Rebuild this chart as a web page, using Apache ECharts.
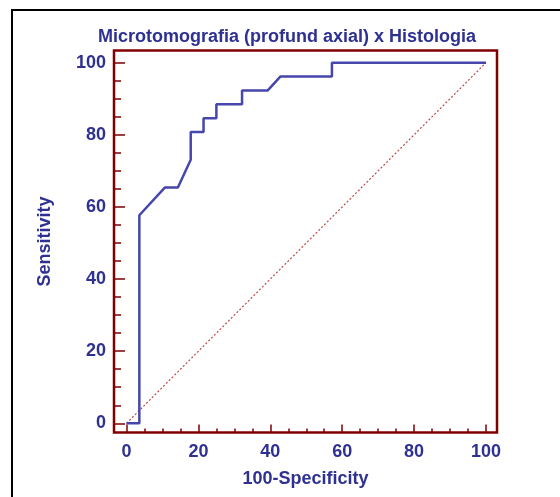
<!DOCTYPE html>
<html>
<head>
<meta charset="utf-8">
<script src="https://cdn.jsdelivr.net/npm/echarts@6/dist/echarts.min.js"></script>
<style>
  html, body { margin: 0; padding: 0; background: #fff; }
  #main { width: 560px; height: 497px; }
</style>
</head>
<body>
<div id="main"></div>
<script>
var chartDom = document.getElementById('main');
var myChart = echarts.init(chartDom);

// ROC curve points: [100-Specificity, Sensitivity]
var rocX = [0, 3.57, 3.57, 10.71, 14.29, 17.86, 17.86, 21.43, 21.43, 25, 25, 32.14, 32.14, 39.29, 42.86, 57.14, 57.14, 100];
var rocY = [0, 0, 57.7, 65.4, 65.4, 73.1, 80.8, 80.8, 84.6, 84.6, 88.5, 88.5, 92.3, 92.3, 96.2, 96.2, 100, 100];
var diagX = [0, 100];
var diagY = [0, 100];

var majorTicks = [0, 20, 40, 60, 80, 100];
var minorTicks = [5, 10, 15, 25, 30, 35, 45, 50, 55, 65, 70, 75, 85, 90, 95];

var titleText = 'Microtomografia (profund axial) x Histologia';
var xName = '100-Specificity';
var yName = 'Sensitivity';

var textColor = '#2e3192';
var axisColor = '#800000';
var font = 'Liberation Sans, Arial, sans-serif';
var fs = 18;

function pairs(xs, ys) {
    return xs.map((x, i) => [x, ys[i]]);
}

// axes stretch a bit past 0..100 so the frame sits outside the data
var xMin = -3.48, xMax = 103.06;
var yMin = -2.55, yMax = 103.38;

var labelStyle = { color: textColor, fontSize: fs, fontWeight: 'bold', fontFamily: font };

var option = {
    backgroundColor: '#fff',
    animation: false,
    title: {
        text: titleText,
        left: 93,
        top: 23,
        textStyle: labelStyle
    },
    grid: { left: 114, top: 50.5, width: 383, height: 382 },
    xAxis: [
        {
            type: 'value', min: xMin, max: xMax, position: 'bottom',
            name: xName, nameLocation: 'middle', nameGap: 38,
            nameTextStyle: labelStyle,
            axisLine: { show: false, onZero: false },
            axisTick: { show: true, inside: true, length: 8, customValues: majorTicks,
                        lineStyle: { color: axisColor, width: 1.5 } },
            axisLabel: Object.assign({ margin: 11, customValues: majorTicks }, labelStyle),
            splitLine: { show: false }
        },
        {
            type: 'value', min: xMin, max: xMax, position: 'bottom',
            axisLine: { show: false, onZero: false },
            axisTick: { show: true, inside: true, length: 4, customValues: minorTicks,
                        lineStyle: { color: axisColor, width: 1.5 } },
            axisLabel: { show: false },
            splitLine: { show: false }
        }
    ],
    yAxis: [
        {
            type: 'value', min: yMin, max: yMax, position: 'left',
            name: yName, nameLocation: 'middle', nameGap: 60,
            nameTextStyle: labelStyle,
            axisLine: { show: false, onZero: false },
            axisTick: { show: true, inside: true, length: 11, customValues: majorTicks,
                        lineStyle: { color: axisColor, width: 1.5 } },
            axisLabel: Object.assign({ margin: 8, customValues: majorTicks }, labelStyle),
            splitLine: { show: false }
        },
        {
            type: 'value', min: yMin, max: yMax, position: 'left',
            axisLine: { show: false, onZero: false },
            axisTick: { show: true, inside: true, length: 7, customValues: minorTicks,
                        lineStyle: { color: axisColor, width: 1.5 } },
            axisLabel: { show: false },
            splitLine: { show: false }
        }
    ],
    graphic: [
        // outer black frame
        { type: 'rect', shape: { x: 12, y: 10, width: 700, height: 700 },
          style: { fill: 'none', stroke: '#000', lineWidth: 2 }, silent: true },
        // plot box
        { type: 'rect', shape: { x: 114, y: 50.5, width: 383, height: 382 },
          style: { fill: 'none', stroke: axisColor, lineWidth: 2.5 }, silent: true, z: 10 }
    ],
    series: [
        {
            type: 'line', data: pairs(diagX, diagY), showSymbol: false, silent: true,
            lineStyle: { color: '#b84a4a', width: 1.2, type: [2, 2] }
        },
        {
            type: 'line', data: pairs(rocX, rocY), showSymbol: false, silent: true,
            lineStyle: { color: '#4646ad', width: 2.5 }, z: 3
        }
    ]
};
option && myChart.setOption(option);
</script>
</body>
</html>
